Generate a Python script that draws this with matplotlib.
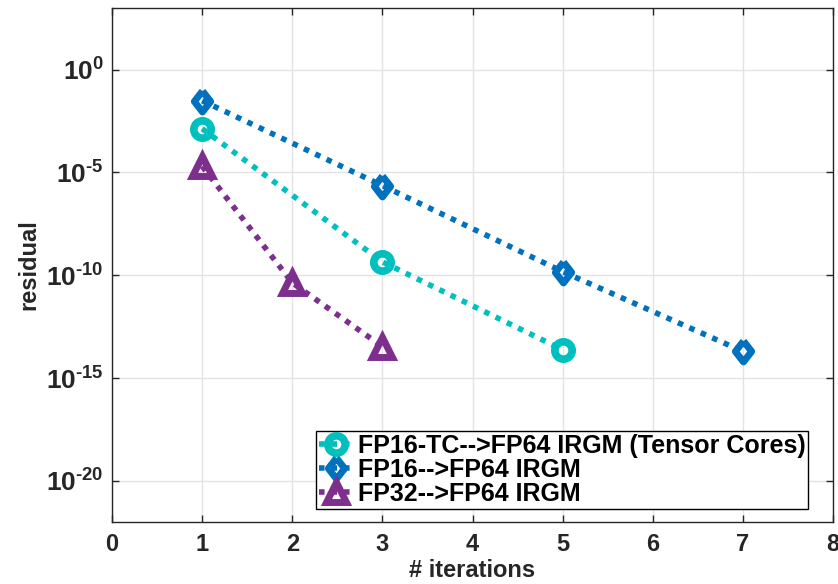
import matplotlib
matplotlib.use("Agg")
import math
import matplotlib.pyplot as plt
from matplotlib.ticker import FixedLocator, NullLocator, FuncFormatter

plt.rcParams['font.family'] = ['Liberation Sans', 'DejaVu Sans']
plt.rcParams['font.weight'] = 'bold'
plt.rcParams['mathtext.fontset'] = 'custom'
plt.rcParams['mathtext.rm'] = 'Liberation Sans:bold'
plt.rcParams['mathtext.bf'] = 'Liberation Sans:bold'
plt.rcParams['mathtext.it'] = 'Liberation Sans:bold'

# Data
labels = ["FP16-TC-->FP64 IRGM (Tensor Cores)", "FP16-->FP64 IRGM", "FP32-->FP64 IRGM"]
x_tc = [1, 3, 5]
y_tc = [1.35e-3, 4.5e-10, 2.4e-14]
x_fp16 = [1, 3, 5, 7]
y_fp16 = [3.1e-2, 2.3e-6, 1.5e-10, 2.0e-14]
x_fp32 = [1, 2, 3]
y_fp32 = [2.0e-5, 4.3e-11, 3.4e-14]
xticks = [0, 1, 2, 3, 4, 5, 6, 7, 8]
yticks = [1e-20, 1e-15, 1e-10, 1e-5, 1e0]

c_tc = '#00BFBF'
c_fp16 = '#0072BD'
c_fp32 = '#7E2F8E'

fig = plt.figure(figsize=(8.38, 5.84), dpi=100)
ax = fig.add_axes([0.1337, 0.1062, 0.8603, 0.8801])

diamond = [(0, 1), (0.78, 0), (0, -1), (-0.78, 0), (0, 1)]
ls = (0, (1, 1.25))
common = dict(linestyle=ls, linewidth=4, markersize=12.5, markeredgewidth=5.5,
              markerfacecolor='none', dash_capstyle='butt')
ax.plot(x_tc, y_tc, color=c_tc, marker='o', label=labels[0], **common)
ax.plot(x_fp16, y_fp16, color=c_fp16, marker=diamond, label=labels[1],
        **{**common, 'markersize': 15, 'markeredgewidth': 5})
ax.plot(x_fp32, y_fp32, color=c_fp32, marker='^', label=labels[2],
        **{**common, 'markersize': 15, 'markeredgewidth': 5})

ax.set_yscale('log')
ax.set_xlim(0, 8)
ax.set_ylim(1e-22, 1e3)
ax.xaxis.set_major_locator(FixedLocator(xticks))
ax.yaxis.set_major_locator(FixedLocator(yticks))
ax.yaxis.set_minor_locator(NullLocator())

def yfmt(v, pos):
    e = int(round(math.log10(v)))
    if e < 0:
        return r'$\mathbf{10^{\text{-}%d}}$' % (-e)
    return r'$\mathbf{10^{%d}}$' % e
ax.yaxis.set_major_formatter(FuncFormatter(yfmt))

ax.grid(True, color='#E3E3E3', linewidth=1)
ax.set_axisbelow(True)
ax.tick_params(direction='in', length=5, width=1, top=True, right=True,
               colors='#262626')
ax.tick_params(axis='x', labelsize=17, pad=8)
ax.tick_params(axis='y', labelsize=19, pad=6)
for s in ax.spines.values():
    s.set_color('#262626')
    s.set_linewidth(1)

ax.set_xlabel('# iterations', fontsize=17, fontweight='bold', color='#262626', labelpad=2)
ax.set_ylabel('residual', fontsize=17, fontweight='bold', color='#262626', labelpad=4)

leg = ax.legend(loc='lower right', bbox_to_anchor=(0.966, 0.025), fontsize=18,
                frameon=True, fancybox=False, edgecolor='black', framealpha=1,
                handlelength=1.4, handletextpad=0.15, labelspacing=0.0,
                borderpad=0.12, borderaxespad=0, markerscale=1.0)
leg.get_frame().set_linewidth(1)
for t in leg.get_texts():
    t.set_color('black')

fig.savefig('out.png', dpi=100)
